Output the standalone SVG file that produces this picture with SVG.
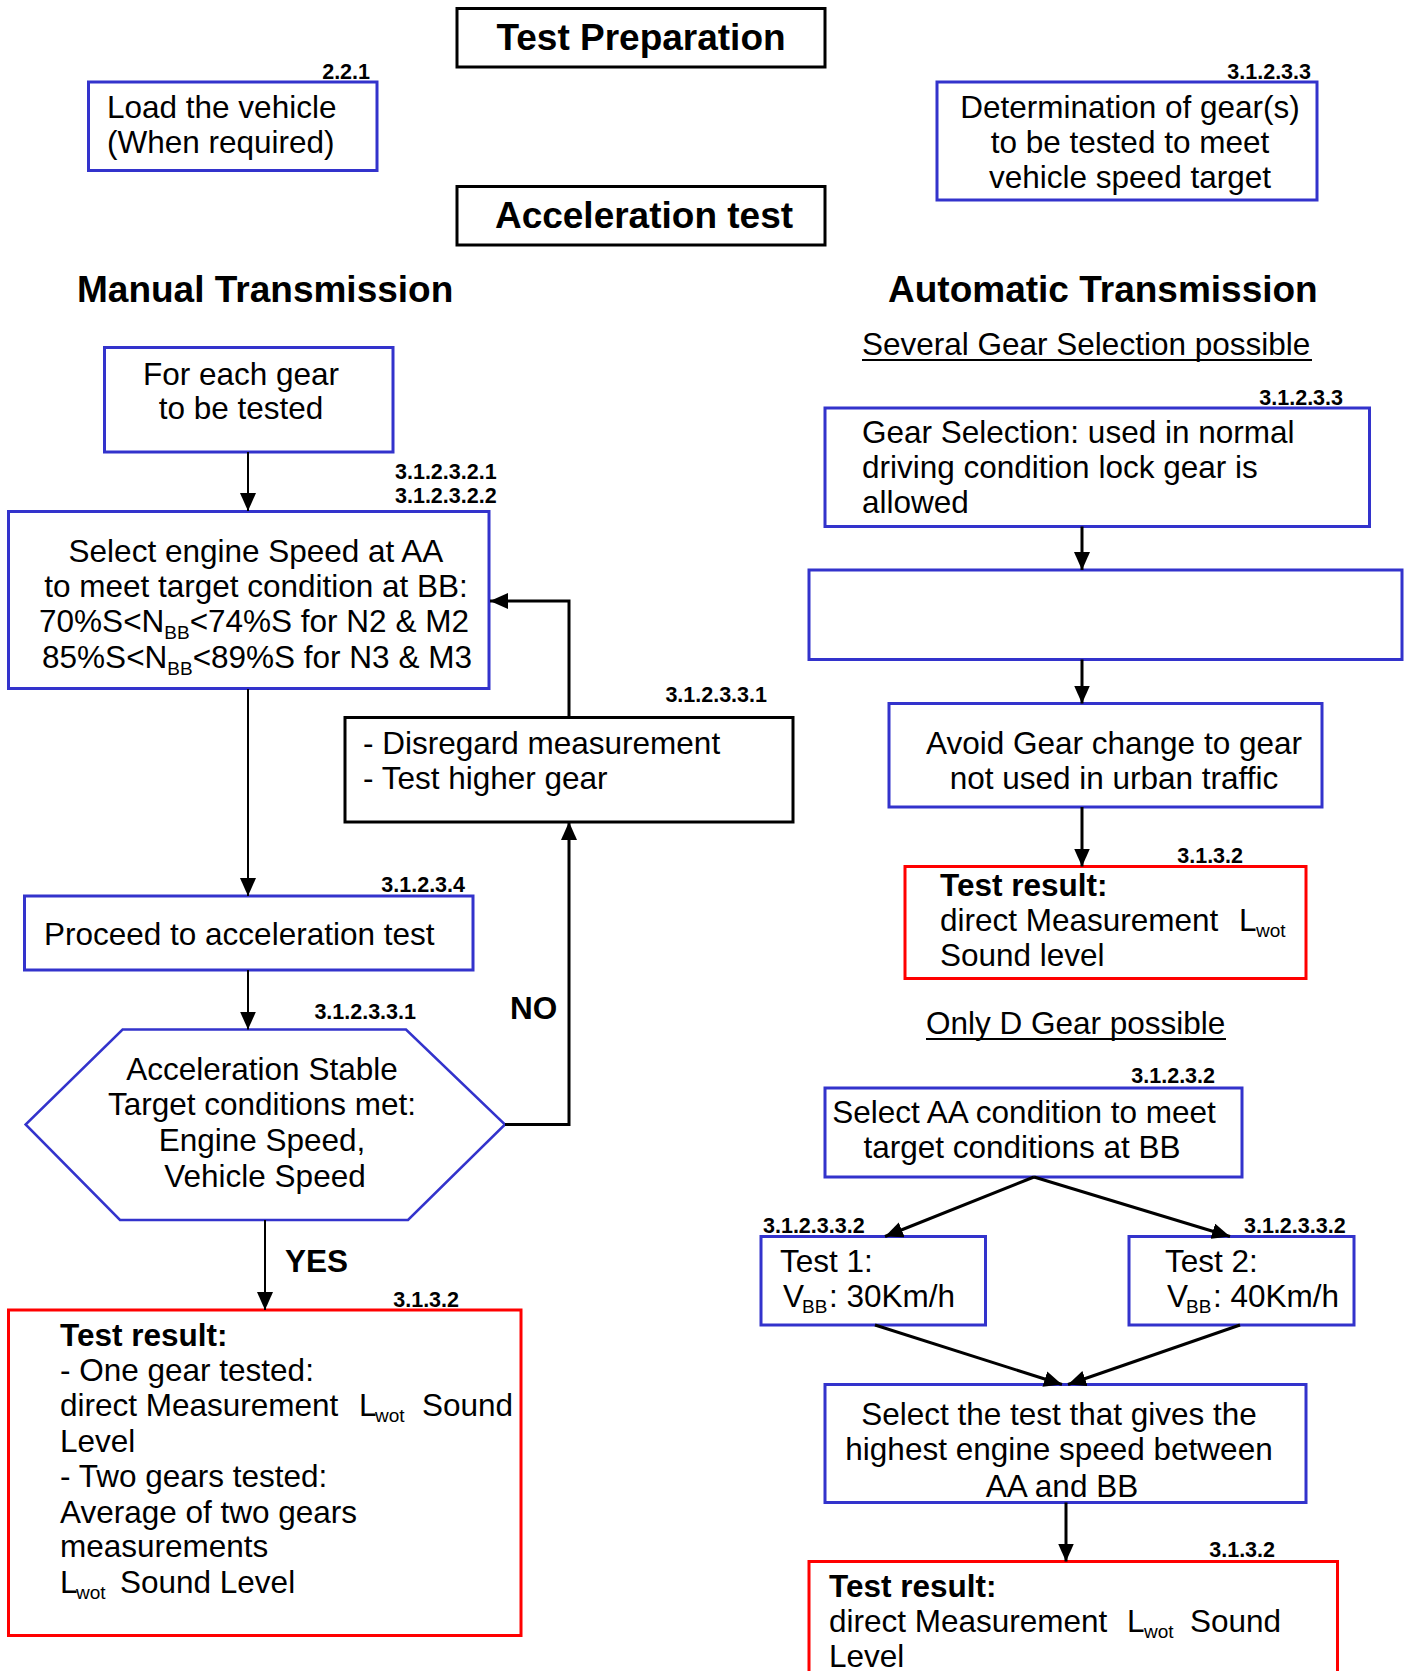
<svg xmlns="http://www.w3.org/2000/svg" width="1407" height="1671" viewBox="0 0 1407 1671">
<style>
text{font-family:"Liberation Sans",Arial,sans-serif;fill:#000}
.t{font-size:31.5px}
.h{font-size:37px;font-weight:bold}
.b{font-size:31.5px;font-weight:bold}
.ref{font-size:21.5px;font-weight:bold}
.sub{font-size:19px}
.blue{fill:#fff;stroke:#3333CC;stroke-width:3}
.blk{fill:#fff;stroke:#000;stroke-width:3}
.red{fill:#fff;stroke:#FF0000;stroke-width:3}
.c{fill:none;stroke:#000;stroke-width:2}
.c3{fill:none;stroke:#000;stroke-width:3}
.ul{stroke:#000;stroke-width:2}
</style>
<defs>
<marker id="ah" markerUnits="userSpaceOnUse" markerWidth="18" markerHeight="16" refX="18" refY="8" orient="auto">
<path d="M0,0 L18,8 L0,16 z" fill="#000"/>
</marker>
</defs>
<rect width="1407" height="1671" fill="#fff"/>

<g id="test-preparation">
<rect class="blk" x="457" y="8.5" width="368" height="58.5"/>
<text class="h" x="641" y="50" text-anchor="middle">Test Preparation</text>
</g>
<g id="load-vehicle">
<rect class="blue" x="88.5" y="82" width="288.5" height="88.5"/>
<text class="ref" x="370" y="79" text-anchor="end">2.2.1</text>
<text class="t" x="107" y="118">Load the vehicle</text>
<text class="t" x="107" y="153">(When required)</text>
</g>
<g id="determination">
<rect class="blue" x="937" y="82" width="380" height="118"/>
<text class="ref" x="1311" y="79" text-anchor="end">3.1.2.3.3</text>
<text class="t" x="1130" y="118" text-anchor="middle">Determination of gear(s)</text>
<text class="t" x="1130" y="153" text-anchor="middle">to be tested to meet</text>
<text class="t" x="1130" y="188" text-anchor="middle">vehicle speed target</text>
</g>
<g id="acceleration-test">
<rect class="blk" x="457" y="186.5" width="368" height="58.5"/>
<text class="h" x="644" y="228" text-anchor="middle">Acceleration test</text>
</g>
<g id="manual-heading">
<text class="h" x="77" y="302">Manual Transmission</text>
</g>
<g id="automatic-heading">
<text class="h" x="888" y="302">Automatic Transmission</text>
</g>

<g id="for-each-gear">
<rect class="blue" x="104.5" y="347.5" width="288.5" height="104.5"/>
<text class="t" x="241" y="385" text-anchor="middle">For each gear</text>
<text class="t" x="241" y="419" text-anchor="middle">to be tested</text>
</g>
<g id="select-engine-speed">
<rect class="blue" x="8.5" y="511.5" width="480.5" height="177"/>
<text class="ref" x="395" y="479">3.1.2.3.2.1</text>
<text class="ref" x="395" y="503">3.1.2.3.2.2</text>
<text class="t" x="256" y="562" text-anchor="middle">Select engine Speed at AA</text>
<text class="t" x="256" y="597" text-anchor="middle">to meet target condition at BB:</text>
<text class="t" x="254" y="632" text-anchor="middle">70%S&lt;N<tspan class="sub" dy="7">BB</tspan><tspan dy="-7">&lt;74%S for N2 &amp; M2</tspan></text>
<text class="t" x="257" y="668" text-anchor="middle">85%S&lt;N<tspan class="sub" dy="7">BB</tspan><tspan dy="-7">&lt;89%S for N3 &amp; M3</tspan></text>
</g>
<g id="disregard">
<rect class="blk" x="345" y="717.5" width="448" height="104.5"/>
<text class="ref" x="767" y="702" text-anchor="end">3.1.2.3.3.1</text>
<text class="t" x="363" y="754">- Disregard measurement</text>
<text class="t" x="363" y="789">- Test higher gear</text>
</g>
<g id="proceed">
<rect class="blue" x="24.5" y="896" width="448.5" height="74"/>
<text class="ref" x="465" y="892" text-anchor="end">3.1.2.3.4</text>
<text class="t" x="44" y="945">Proceed to acceleration test</text>
</g>
<g id="acceleration-stable">
<polygon points="122.6,1029.6 406,1029.6 505,1124.5 408,1220 120,1220 25.6,1124.5" fill="#fff" stroke="#3333CC" stroke-width="2.5"/>
<text class="ref" x="416" y="1019" text-anchor="end">3.1.2.3.3.1</text>
<text class="t" x="262" y="1080" text-anchor="middle">Acceleration Stable</text>
<text class="t" x="262" y="1115" text-anchor="middle">Target conditions met:</text>
<text class="t" x="262" y="1151" text-anchor="middle">Engine Speed,</text>
<text class="t" x="265" y="1187" text-anchor="middle">Vehicle Speed</text>
</g>
<g id="result-manual">
<rect class="red" x="8.5" y="1310" width="512.5" height="325.5"/>
<text class="ref" x="459" y="1307" text-anchor="end">3.1.3.2</text>
<text class="b" x="60" y="1346">Test result:</text>
<text class="t" x="60" y="1381">- One gear tested:</text>
<text class="t" y="1416"><tspan x="60">direct Measurement</tspan><tspan x="359">L</tspan><tspan class="sub" x="375" dy="6">wot</tspan><tspan x="422" dy="-6">Sound</tspan></text>
<text class="t" x="60" y="1452">Level</text>
<text class="t" x="60" y="1487">- Two gears tested:</text>
<text class="t" x="60" y="1523">Average of two gears</text>
<text class="t" x="60" y="1557">measurements</text>
<text class="t" y="1593"><tspan x="60">L</tspan><tspan class="sub" x="76" dy="6">wot</tspan><tspan x="120" dy="-6">Sound Level</tspan></text>
</g>

<g id="several-gear-heading">
<text class="t" x="862" y="355">Several Gear Selection possible</text>
<line class="ul" x1="862" y1="360" x2="1312" y2="360"/>
</g>
<g id="gear-selection">
<rect class="blue" x="825" y="408" width="544.5" height="118.5"/>
<text class="ref" x="1343" y="405" text-anchor="end">3.1.2.3.3</text>
<text class="t" x="862" y="443">Gear Selection: used in normal</text>
<text class="t" x="862" y="478">driving condition lock gear is</text>
<text class="t" x="862" y="513">allowed</text>
</g>
<g id="empty-box">
<rect class="blue" x="809" y="570" width="593" height="89.5"/>
</g>
<g id="avoid-gear-change">
<rect class="blue" x="889" y="703.5" width="433" height="103.5"/>
<text class="t" x="1114" y="754" text-anchor="middle">Avoid Gear change to gear</text>
<text class="t" x="1114" y="789" text-anchor="middle">not used in urban traffic</text>
</g>
<g id="result-several">
<rect class="red" x="905" y="866.5" width="401" height="112"/>
<text class="ref" x="1243" y="863" text-anchor="end">3.1.3.2</text>
<text class="b" x="940" y="896">Test result:</text>
<text class="t" y="931"><tspan x="940">direct Measurement</tspan><tspan x="1239">L</tspan><tspan class="sub" x="1256" dy="6">wot</tspan></text>
<text class="t" x="940" y="966">Sound level</text>
</g>
<g id="only-d-heading">
<text class="t" x="926" y="1034">Only D Gear possible</text>
<line class="ul" x1="926" y1="1039" x2="1226" y2="1039"/>
</g>
<g id="select-aa">
<rect class="blue" x="825" y="1088" width="417" height="89"/>
<text class="ref" x="1215" y="1083" text-anchor="end">3.1.2.3.2</text>
<text class="t" x="1024" y="1123" text-anchor="middle">Select AA condition to meet</text>
<text class="t" x="1022" y="1158" text-anchor="middle">target conditions at BB</text>
</g>
<g id="test-1">
<rect class="blue" x="761" y="1236.5" width="224.5" height="88.5"/>
<text class="ref" x="763" y="1233">3.1.2.3.3.2</text>
<text class="t" x="780" y="1272">Test 1:</text>
<text class="t" y="1307"><tspan x="783">V</tspan><tspan class="sub" x="802" dy="6">BB</tspan><tspan x="829" dy="-6">: 30Km/h</tspan></text>
</g>
<g id="test-2">
<rect class="blue" x="1129" y="1236.5" width="225" height="88.5"/>
<text class="ref" x="1244" y="1233">3.1.2.3.3.2</text>
<text class="t" x="1165" y="1272">Test 2:</text>
<text class="t" y="1307"><tspan x="1167">V</tspan><tspan class="sub" x="1186" dy="6">BB</tspan><tspan x="1213" dy="-6">: 40Km/h</tspan></text>
</g>
<g id="select-highest">
<rect class="blue" x="825" y="1384.5" width="481" height="118"/>
<text class="t" x="1059" y="1425" text-anchor="middle">Select the test that gives the</text>
<text class="t" x="1059" y="1460" text-anchor="middle">highest engine speed between</text>
<text class="t" x="1062" y="1497" text-anchor="middle">AA and BB</text>
</g>
<g id="result-only-d">
<rect class="red" x="809" y="1561.5" width="528.5" height="130"/>
<text class="ref" x="1275" y="1557" text-anchor="end">3.1.3.2</text>
<text class="b" x="829" y="1597">Test result:</text>
<text class="t" y="1632"><tspan x="829">direct Measurement</tspan><tspan x="1127">L</tspan><tspan class="sub" x="1144" dy="6">wot</tspan><tspan x="1190" dy="-6">Sound</tspan></text>
<text class="t" x="829" y="1667">Level</text>
</g>

<g id="connectors">
<line class="c" x1="248" y1="452" x2="248" y2="511" marker-end="url(#ah)"/>
<line class="c" x1="248" y1="689" x2="248" y2="896" marker-end="url(#ah)"/>
<line class="c" x1="248" y1="970" x2="248" y2="1029.6" marker-end="url(#ah)"/>
<polyline class="c3" points="505,1124.5 569,1124.5 569,822" marker-end="url(#ah)"/>
<polyline class="c3" points="569,717.5 569,601 490,601" marker-end="url(#ah)"/>
<line class="c" x1="265" y1="1220" x2="265" y2="1310" marker-end="url(#ah)"/>
<text class="b" x="510" y="1019">NO</text>
<text class="b" x="285" y="1272">YES</text>
<line class="c3" x1="1082" y1="526.5" x2="1082" y2="570" marker-end="url(#ah)"/>
<line class="c3" x1="1082" y1="659.5" x2="1082" y2="703.5" marker-end="url(#ah)"/>
<line class="c3" x1="1082" y1="807" x2="1082" y2="866.5" marker-end="url(#ah)"/>
<line class="c3" x1="1034" y1="1177" x2="885" y2="1236.5" marker-end="url(#ah)"/>
<line class="c3" x1="1034" y1="1177" x2="1230" y2="1236.5" marker-end="url(#ah)"/>
<line class="c3" x1="875" y1="1325" x2="1062" y2="1384.5" marker-end="url(#ah)"/>
<line class="c3" x1="1240" y1="1325" x2="1068" y2="1384.5" marker-end="url(#ah)"/>
<line class="c3" x1="1066" y1="1502.5" x2="1066" y2="1561.5" marker-end="url(#ah)"/>
</g>
</svg>
